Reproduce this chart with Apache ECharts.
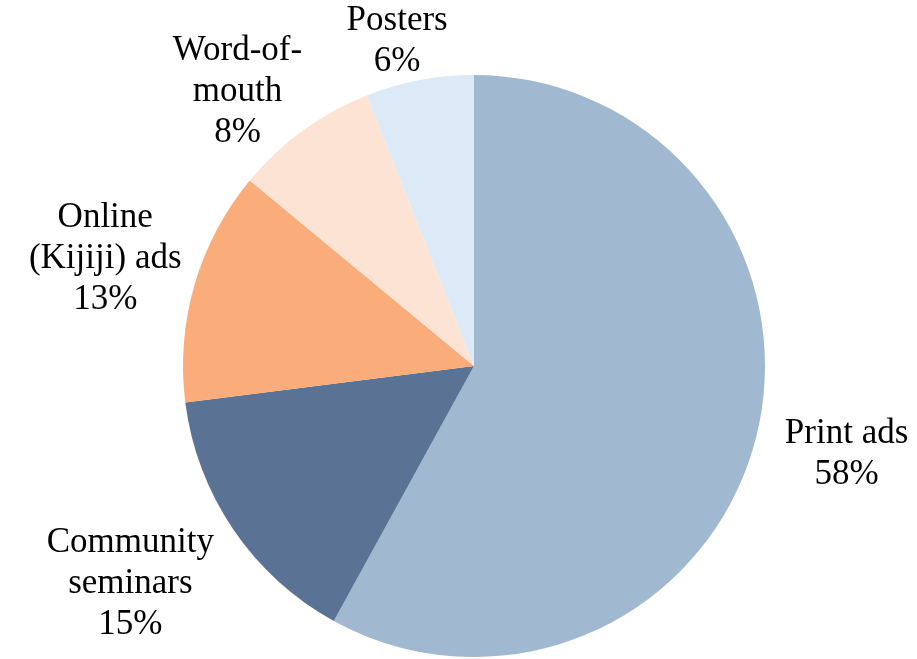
<!DOCTYPE html>
<html>
<head>
<meta charset="utf-8">
<script src="https://cdn.jsdelivr.net/npm/echarts@6/dist/echarts.min.js"></script>
<style>
  html, body { margin: 0; padding: 0; background: #ffffff; }
  #chart { width: 917px; height: 659px; }
</style>
</head>
<body>
<div id="chart"></div>
<script>
// Recruitment channels and their share of respondents (%)
const categories = ['Print ads', 'Community seminars', 'Online (Kijiji) ads', 'Word-of-mouth', 'Posters'];
const shares = [58, 15, 13, 8, 6];
// How each category name is broken over lines in its label
const labelText = [['Print ads'], ['Community', 'seminars'], ['Online', '(Kijiji) ads'], ['Word-of-', 'mouth'], ['Posters']];

const colors = ['#A0B8D0', '#5A7394', '#FAAC7A', '#FDE3D4', '#DCE9F6'];

// Pie geometry (px) and label placement around it
const CX = 474, CY = 366, R = 291;
const labelRadius = [383, 407, 384, 362, 334];
const labelTurn = [-1, 1.8, 0, -4.8, -2.5];

const total = shares.reduce((a, b) => a + b, 0);
function midAngle(i) {
  let before = 0;
  for (let k = 0; k < i; k++) before += shares[k];
  return (before + shares[i] / 2) / total * 360;
}

const chart = echarts.init(document.getElementById('chart'), null, { renderer: 'canvas' });
chart.setOption({
  animation: false,
  backgroundColor: '#ffffff',
  series: [{
    type: 'pie',
    center: [CX, CY],
    radius: R,
    startAngle: 90,
    clockwise: true,
    avoidLabelOverlap: false,
    emphasis: { disabled: true },
    itemStyle: { borderWidth: 0 },
    labelLine: { show: false },
    label: {
      show: true,
      position: 'outside',
      fontFamily: 'Liberation Serif',
      fontSize: 35,
      lineHeight: 41,
      color: '#000000',
      formatter: p => labelText[p.dataIndex].join('\n') + '\n' + shares[p.dataIndex] + '%'
    },
    labelLayout: p => {
      const i = p.dataIndex;
      const a = (midAngle(i) + labelTurn[i]) * Math.PI / 180;
      const d = labelRadius[i];
      return { x: CX + d * Math.sin(a), y: CY - d * Math.cos(a), align: 'center', verticalAlign: 'middle' };
    },
    data: categories.map((name, i) => ({ name, value: shares[i], itemStyle: { color: colors[i] } }))
  }]
});
</script>
</body>
</html>
